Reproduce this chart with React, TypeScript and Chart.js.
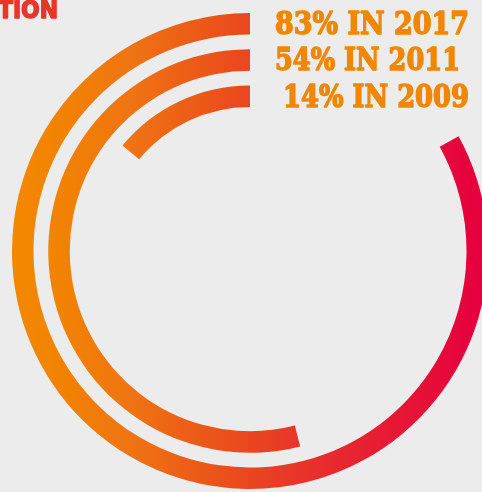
import React, { useEffect, useRef } from 'react';
import { Chart, registerables } from 'chart.js';

Chart.register(...registerables);

// ---- data ----
const years = ['2017', '2011', '2009'];
const shares = [83, 54, 14];
const titleText = 'TION';

// ---- styles ----
const BG = '#ececec';
const TEXT_ORANGE = '#f18700';
const TITLE_RED = '#e8362a';

export default function App() {
  const ref = useRef<HTMLCanvasElement>(null);

  useEffect(() => {
    const canvas = ref.current!;
    let grad: CanvasGradient | null = null;
    const getGrad = (chart: any) => {
      if (!grad) {
        const g = chart.ctx.createLinearGradient(0, 0, 482, 0);
        g.addColorStop(0, '#f38a00');
        g.addColorStop(0.12, '#f28300');
        g.addColorStop(0.27, '#f07412');
        g.addColorStop(0.41, '#ec5a18');
        g.addColorStop(0.52, '#e9461f');
        g.addColorStop(0.62, '#e8342a');
        g.addColorStop(0.97, '#e5033d');
        g.addColorStop(1, '#e5003e');
        grad = g;
      }
      return grad;
    };
    const color = (c: any) => (c.dataIndex === 1 ? getGrad(c.chart) : 'rgba(0,0,0,0)');

    const datasets: any[] = [];
    shares.forEach((v, i) => {
      if (i > 0) {
        datasets.push({
          label: 'gap' + i,
          data: [1],
          backgroundColor: 'rgba(0,0,0,0)',
          weight: 14.75,
          borderWidth: 0,
        });
      }
      datasets.push({
        label: years[i],
        data: [100 - v, v],
        backgroundColor: color,
        weight: 21.5,
        borderWidth: 0,
      });
    });

    const labelOffsets = [25, 25, 33];
    const labelWidths = [194, 185, 186];

    const labelPlugin = {
      id: 'ringLabels',
      afterDraw(chart: any) {
        const ctx = chart.ctx as CanvasRenderingContext2D;
        ctx.save();
        ctx.textAlign = 'left';
        ctx.textBaseline = 'alphabetic';
        ctx.lineJoin = 'round';

        ctx.fillStyle = TITLE_RED;
        ctx.strokeStyle = TITLE_RED;
        ctx.lineWidth = 1.6;
        ctx.font = 'bold 25px "DejaVu Sans"';
        ctx.fillText(titleText, -2, 18, 60);
        ctx.strokeText(titleText, -2, 18, 60);

        ctx.fillStyle = TEXT_ORANGE;
        ctx.strokeStyle = TEXT_ORANGE;
        ctx.lineWidth = 1.6;
        ctx.font = 'bold 31px "DejaVu Serif"';
        shares.forEach((v, i) => {
          const meta = chart.getDatasetMeta(i * 2);
          const arc: any = meta.data[1];
          const p = arc.getProps(['x', 'y', 'innerRadius'], true);
          const text = `${v}% IN ${years[i]}`;
          const tx = p.x + labelOffsets[i];
          const ty = p.y - p.innerRadius - 0.5;
          ctx.fillText(text, tx, ty, labelWidths[i]);
          ctx.strokeText(text, tx, ty, labelWidths[i]);
        });
        ctx.restore();
      },
    };

    const chart = new Chart(canvas, {
      type: 'doughnut',
      data: { labels: ['rest', 'share'], datasets },
      options: {
        responsive: false,
        animation: false,
        cutout: 144,
        rotation: 0,
        circumference: 360,
        layout: { padding: { left: 12, top: 13, right: 12, bottom: 13 } },
        elements: { arc: { borderWidth: 0, hoverBorderWidth: 0, offset: 0, hoverOffset: 0 } as any },
        plugins: {
          legend: { display: false },
          tooltip: { enabled: false },
          title: { display: false },
        },
        events: [],
      } as any,
      plugins: [labelPlugin],
    });
    return () => chart.destroy();
  }, []);

  return (
    <div
      style={{
        position: 'absolute',
        left: 0,
        top: 0,
        width: 482,
        height: 492,
        overflow: 'hidden',
        background: BG,
      }}
    >
      <canvas ref={ref} width={500} height={502} style={{ display: 'block' }} />
    </div>
  );
}
